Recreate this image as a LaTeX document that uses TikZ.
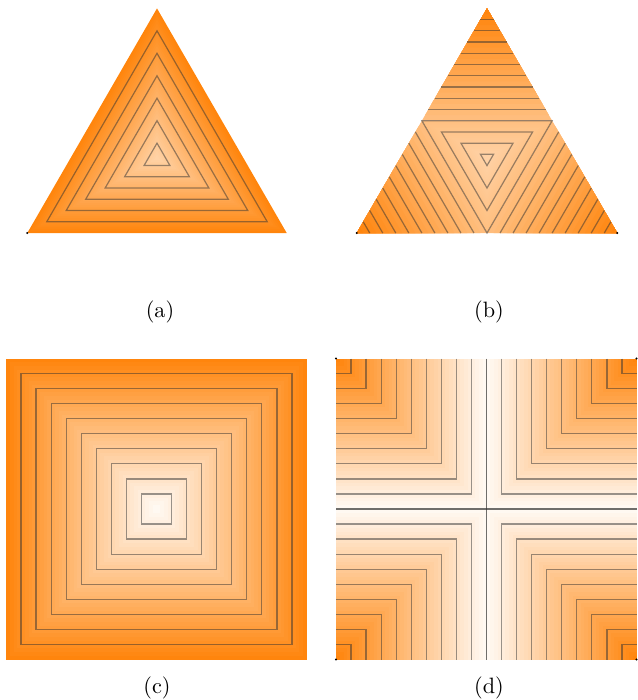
\documentclass[tikz,border=0pt]{standalone}
\usepackage{tikz}
\usetikzlibrary{calc}
\definecolor{hot}{RGB}{255,132,10}

\begin{document}
\begin{tikzpicture}[
    x=0.45pt, y=-0.45pt,
    iso/.style={draw=black!80, draw opacity=0.5, line width=0.55pt, line join=miter},
    sublabel/.style={font=\normalsize, inner sep=0pt},
    corner/.style={fill=black}
]
\useasboundingbox (0,0) rectangle (637,700);

% (a) min of barycentric coordinates
\coordinate (a1) at (27.3,233);
\coordinate (a2) at (286.7,233);
\coordinate (a3) at (157,8.4);
\coordinate (ac) at (157,158.1);
\foreach \i in {0,...,39}{
  \pgfmathsetmacro\sc{1-\i/40}
  \pgfmathsetmacro\pc{100-64*(1-\sc+0.0125)}
  \fill[hot!\pc!white] ($(ac)!\sc!(a1)$) -- ($(ac)!\sc!(a2)$) -- ($(ac)!\sc!(a3)$) -- cycle;
}
\foreach \sc in {0.1,0.25,0.4,0.55,0.7,0.85}
  \draw[iso] ($(ac)!\sc!(a1)$) -- ($(ac)!\sc!(a2)$) -- ($(ac)!\sc!(a3)$) -- cycle;
\fill[corner] (a1) circle[radius=0.5pt];

% (b) max of barycentric coordinates
\coordinate (b1) at (356.7,233);
\coordinate (b2) at (617.3,233);
\coordinate (b3) at (487,8.4);
\coordinate (bc) at (487,158.1);
\coordinate (m12) at ($(b1)!0.5!(b2)$);
\coordinate (m23) at ($(b2)!0.5!(b3)$);
\coordinate (m13) at ($(b1)!0.5!(b3)$);
\foreach \i in {0,...,19}{
  \pgfmathsetmacro\sc{1-\i/20}
  \pgfmathsetmacro\pc{4+96*(1/3+(\sc-0.025)/6)}
  \fill[hot!\pc!white] ($(bc)!\sc!(m12)$) -- ($(bc)!\sc!(m23)$) -- ($(bc)!\sc!(m13)$) -- cycle;
}
\foreach \v/\u/\w in {b1/b2/b3, b2/b3/b1, b3/b1/b2}{
  \foreach \j in {0,...,19}{
    \pgfmathsetmacro\rc{0.5-\j/40}
    \pgfmathsetmacro\pc{4+96*(1-\rc+0.0125)}
    \fill[hot!\pc!white] (\v) -- ($(\v)!\rc!(\u)$) -- ($(\v)!\rc!(\w)$) -- cycle;
  }
}
\foreach \sc in {1,0.7,0.4,0.1}
  \draw[iso] ($(bc)!\sc!(m12)$) -- ($(bc)!\sc!(m23)$) -- ($(bc)!\sc!(m13)$) -- cycle;
\foreach \v/\u/\w in {b1/b2/b3, b2/b3/b1, b3/b1/b2}
  \foreach \rc in {0.05,0.10,0.15,0.20,0.25,0.30,0.35,0.40,0.45}
    \draw[iso] ($(\v)!\rc!(\u)$) -- ($(\v)!\rc!(\w)$);
\fill[corner] (b1) circle[radius=0.5pt];
\fill[corner] (b2) circle[radius=0.5pt];

% (c) distance to the boundary
\foreach \i in {0,...,39}{
  \pgfmathsetmacro\dc{\i*301/80}
  \pgfmathsetmacro\pc{100-192*(\i/80+1/160)}
  \fill[hot!\pc!white] (6+\dc,358.5+\dc) rectangle (307-\dc,659.5-\dc);
}
\foreach \k in {1,...,9}{
  \pgfmathsetmacro\dc{\k*15.05}
  \draw[iso] (6+\dc,358.5+\dc) rectangle (307-\dc,659.5-\dc);
}

% (d) distance to the nearest corner
\foreach \j in {0,...,39}{
  \pgfmathsetmacro\cc{(0.5-\j/80)*301}
  \pgfmathsetmacro\pc{100-192*(0.5-\j/80-1/160)}
  \fill[hot!\pc!white] (336,358.5) rectangle (336+\cc,358.5+\cc);
  \fill[hot!\pc!white] (637-\cc,358.5) rectangle (637,358.5+\cc);
  \fill[hot!\pc!white] (336,659.5-\cc) rectangle (336+\cc,659.5);
  \fill[hot!\pc!white] (637-\cc,659.5-\cc) rectangle (637,659.5);
}
\foreach \k in {1,...,9}{
  \pgfmathsetmacro\cc{\k*15.05}
  \draw[iso] (336+\cc,358.5) -- (336+\cc,358.5+\cc) -- (336,358.5+\cc);
  \draw[iso] (637-\cc,358.5) -- (637-\cc,358.5+\cc) -- (637,358.5+\cc);
  \draw[iso] (336+\cc,659.5) -- (336+\cc,659.5-\cc) -- (336,659.5-\cc);
  \draw[iso] (637-\cc,659.5) -- (637-\cc,659.5-\cc) -- (637,659.5-\cc);
}
\draw[iso, draw opacity=0.7] (486.5,358.5) -- (486.5,659.5);
\draw[iso, draw opacity=0.7] (336,509) -- (637,509);
\foreach \pt in {(336,358.5),(636.5,358.5),(336,659.5),(636.5,659.5)}
  \fill[corner] \pt circle[radius=0.5pt];

% sub-captions
\node[sublabel] (capa) at (160,312) {(a)};
\node[sublabel] (capb) at (489,312) {(b)};
\node[sublabel] (capc) at (157,688) {(c)};
\node[sublabel] (capd) at (489,688) {(d)};
\end{tikzpicture}
\end{document}
